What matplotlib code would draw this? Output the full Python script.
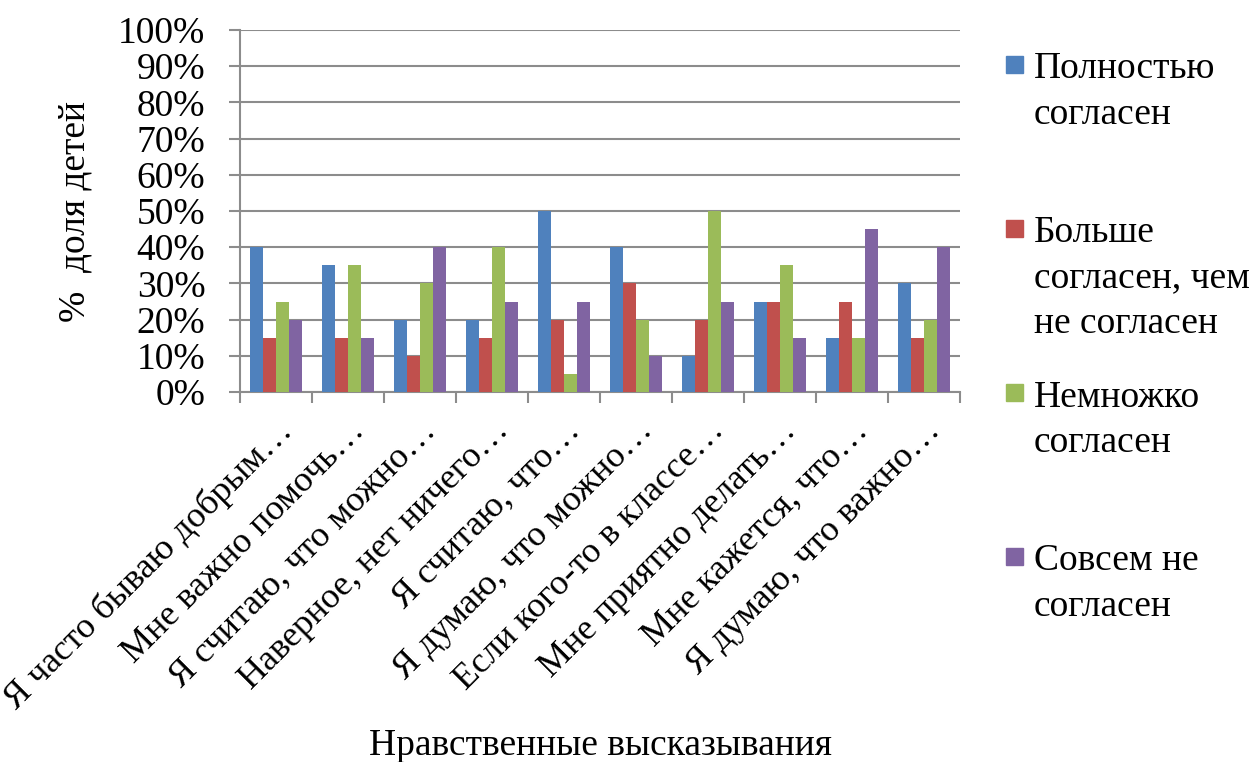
import numpy as np
import matplotlib
matplotlib.use("Agg")
import matplotlib.pyplot as plt
from matplotlib import font_manager as fm
from matplotlib.patches import Rectangle
from matplotlib.ticker import FuncFormatter, FixedLocator

SERIF = fm.findfont("Liberation Serif")


def fp(size):
    return fm.FontProperties(fname=SERIF, size=size)


# Data
statements = [
    "Я часто бываю добрым…",
    "Мне важно помочь…",
    "Я считаю, что можно…",
    "Наверное, нет ничего…",
    "Я считаю, что…",
    "Я думаю, что можно…",
    "Если кого-то в классе…",
    "Мне приятно делать…",
    "Мне кажется, что…",
    "Я думаю, что важно…",
]
series_names = [
    "Полностью\nсогласен",
    "Больше\nсогласен, чем\nне согласен",
    "Немножко\nсогласен",
    "Совсем не\nсогласен",
]
fully_agree = [40, 35, 20, 20, 50, 40, 10, 25, 15, 30]
more_agree = [15, 15, 10, 15, 20, 30, 20, 25, 25, 15]
bit_agree = [25, 35, 30, 40, 5, 20, 50, 35, 15, 20]
disagree = [20, 15, 40, 25, 25, 10, 25, 15, 45, 40]
colors = ["#4F81BD", "#C0504D", "#9BBB59", "#8064A2"]

W, H = 1252, 762
fig = plt.figure(figsize=(W / 100, H / 100), dpi=100)
ax = fig.add_axes([240 / W, 1 - 392 / H, 720 / W, 362 / H])

x = np.arange(len(statements))
width = 0.18
all_series = [fully_agree, more_agree, bit_agree, disagree]
for i, (vals, col) in enumerate(zip(all_series, colors)):
    ax.bar(x + (i - 1.5) * width, vals, width, color=col, zorder=3)

grid_col = "#8c8c8c"
ax.set_xlim(-0.5, len(statements) - 0.5)
ax.set_ylim(0, 100)
ax.set_yticks(np.arange(0, 101, 10))
ax.yaxis.set_major_formatter(FuncFormatter(lambda v, p: f"{int(v)}%"))
ax.grid(axis="y", color=grid_col, linewidth=1.5, zorder=0)
ax.tick_params(axis="y", length=8, width=1.5, color=grid_col, pad=17)

# category labels at centers, tick marks at boundaries
ax.set_xticks(x)
ax.set_xticklabels(statements, rotation=45, ha="right", va="top",
                   rotation_mode="anchor")
ax.tick_params(axis="x", which="major", length=0, pad=16)
ax.xaxis.set_minor_locator(FixedLocator(np.arange(-0.5, len(statements), 1.0)))
ax.tick_params(axis="x", which="minor", length=8, width=1.5, color=grid_col)

for lbl in ax.get_xticklabels():
    lbl.set_fontproperties(fp(26))
for lbl in ax.get_yticklabels():
    lbl.set_fontproperties(fp(27))

for s in ["top", "right"]:
    ax.spines[s].set_visible(False)
for s in ["left", "bottom"]:
    ax.spines[s].set_color(grid_col)
    ax.spines[s].set_linewidth(1.5)

ax.set_ylabel("%  доля детей", fontproperties=fp(27))
ax.yaxis.set_label_coords(-0.205, 0.5)
ax.set_xlabel("Нравственные высказывания", fontproperties=fp(27))
ax.xaxis.set_label_coords(0.5, -0.93)

# legend, Excel-style: marker aligned with the first text line
for i, (name, col) in enumerate(zip(series_names, colors)):
    top = 56 + 164 * i
    fig.patches.append(Rectangle((1006 / W, 1 - (top + 17) / H), 17 / W, 17 / H,
                                 transform=fig.transFigure, color=col))
    fig.text(1034 / W, 1 - (52 + 164 * i) / H, name, fontproperties=fp(27),
             va="top", ha="left", linespacing=1.4)

fig.savefig("out.png", dpi=100)
